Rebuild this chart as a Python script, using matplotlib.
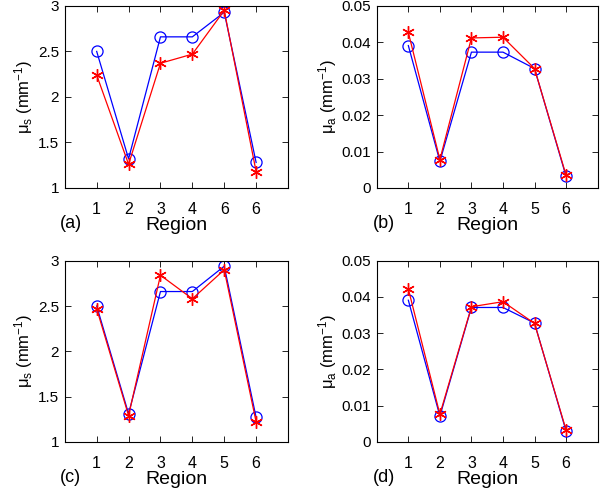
#!/usr/bin/env python3
"""Four-panel mu_s / mu_a versus region comparison (MATLAB-style figure)."""

import matplotlib
matplotlib.use("Agg")
import matplotlib.pyplot as plt

plt.rcParams["font.family"] = ["Liberation Sans", "DejaVu Sans"]
plt.rcParams["mathtext.fontset"] = "custom"
plt.rcParams["mathtext.rm"] = "Liberation Sans"
plt.rcParams["mathtext.it"] = "Liberation Sans"

regions = [1, 2, 3, 4, 5, 6]
labels_a = ["1", "2", "3", "4", "6", "6"]
labels_bcd = ["1", "2", "3", "4", "5", "6"]

# (a) scattering, top row
mus_a_blue = [2.50, 1.32, 2.66, 2.66, 2.93, 1.28]
mus_a_red = [2.24, 1.26, 2.37, 2.47, 2.95, 1.18]
# (b) absorption, top row
mua_b_blue = [0.0391, 0.0073, 0.0373, 0.0373, 0.0328, 0.0032]
mua_b_red = [0.0427, 0.0078, 0.0412, 0.0414, 0.0328, 0.0035]
# (c) scattering, bottom row
mus_c_blue = [2.50, 1.31, 2.66, 2.66, 2.94, 1.27]
mus_c_red = [2.47, 1.29, 2.84, 2.58, 2.90, 1.22]
# (d) absorption, bottom row
mua_d_blue = [0.0391, 0.0071, 0.0371, 0.0371, 0.0328, 0.0030]
mua_d_red = [0.0422, 0.0076, 0.0373, 0.0387, 0.0327, 0.0033]

MUS_LABEL = r"$\mu_\mathrm{s}$ (mm$^{-1}$)"
MUA_LABEL = r"$\mu_\mathrm{a}$ (mm$^{-1}$)"

fig = plt.figure(figsize=(6.0, 4.92), dpi=100)

panels = [
    ("(a)", [0.108, 0.618, 0.372, 0.370], mus_a_blue, mus_a_red, labels_a,
     (1, 3), [1, 1.5, 2, 2.5, 3], ["1", "1.5", "2", "2.5", "3"], MUS_LABEL),
    ("(b)", [0.628, 0.618, 0.368, 0.370], mua_b_blue, mua_b_red, labels_bcd,
     (0, 0.05), [0, 0.01, 0.02, 0.03, 0.04, 0.05],
     ["0", "0.01", "0.02", "0.03", "0.04", "0.05"], MUA_LABEL),
    ("(c)", [0.108, 0.102, 0.372, 0.368], mus_c_blue, mus_c_red, labels_bcd,
     (1, 3), [1, 1.5, 2, 2.5, 3], ["1", "1.5", "2", "2.5", "3"], MUS_LABEL),
    ("(d)", [0.628, 0.102, 0.368, 0.368], mua_d_blue, mua_d_red, labels_bcd,
     (0, 0.05), [0, 0.01, 0.02, 0.03, 0.04, 0.05],
     ["0", "0.01", "0.02", "0.03", "0.04", "0.05"], MUA_LABEL),
]

for tag, rect, blue, red, xlabels, ylim, yticks, ylabels, ylab in panels:
    ax = fig.add_axes(rect)
    ax.plot(regions, blue, color="blue", lw=0.9, marker="o", ms=8,
            mfc="none", mec="blue", mew=0.9)
    ax.plot(regions, red, color="red", lw=0.9, marker=(6, 2, 0), ms=9,
            mec="red", mew=1.0)
    ax.set_xlim(0, 7)
    ax.set_ylim(*ylim)
    ax.set_xticks(regions)
    ax.set_xticklabels(xlabels, fontsize=11.5)
    ax.set_yticks(yticks)
    ax.set_yticklabels(ylabels, fontsize=11)
    ax.tick_params(direction="in", top=True, right=True, length=4, width=0.6)
    ax.tick_params(axis="x", pad=10)
    ax.tick_params(axis="y", pad=4)
    for sp in ax.spines.values():
        sp.set_linewidth(0.8)
    ax.set_xlabel("Region", fontsize=14, labelpad=0)
    ax.set_ylabel(ylab, fontsize=12, labelpad=2)
    ax.text(-0.02, -0.15, tag, transform=ax.transAxes, fontsize=13,
            ha="left", va="top")

fig.savefig("out.png", dpi=100)
